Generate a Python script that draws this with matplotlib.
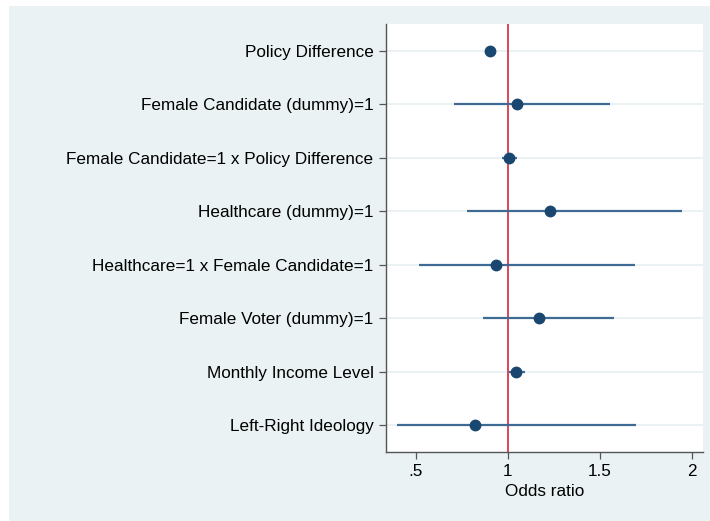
import matplotlib.pyplot as plt
from matplotlib.patches import Rectangle

labels = [
    "Policy Difference",
    "Female Candidate (dummy)=1",
    "Female Candidate=1 x Policy Difference",
    "Healthcare (dummy)=1",
    "Healthcare=1 x Female Candidate=1",
    "Female Voter (dummy)=1",
    "Monthly Income Level",
    "Left-Right Ideology",
]
odds = [0.902, 1.047, 1.005, 1.230, 0.933, 1.168, 1.043, 0.822]
ci_low = [0.885, 0.707, 0.966, 0.779, 0.515, 0.866, 1.004, 0.398]
ci_high = [0.920, 1.553, 1.047, 1.944, 1.690, 1.578, 1.092, 1.694]
xticks = [0.5, 1, 1.5, 2]
xtick_labels = [".5", "1", "1.5", "2"]

NAVY = "#1a476f"
PANEL = "#eaf2f3"

plt.rcParams["font.family"] = ["Liberation Sans", "DejaVu Sans"]

W, H = 710, 521
fig = plt.figure(figsize=(W / 100, H / 100), dpi=100, facecolor="white")

# light blue graph region, offset from the top-left like the screenshot
bg = fig.add_axes([0, 0, 1, 1], zorder=-1)
bg.add_patch(Rectangle((9 / W, 0), 1 - 9 / W, 1 - 6 / H, facecolor=PANEL, edgecolor="none"))
bg.set_xlim(0, 1)
bg.set_ylim(0, 1)
bg.axis("off")

ax = fig.add_axes([386 / W, 69 / H, 317 / W, 428 / H])
ax.set_facecolor("white")

ypos = list(range(1, len(labels) + 1))
for y in ypos:
    ax.axhline(y, color=PANEL, lw=1.4, zorder=1)

ax.axvline(1, color="#d7263d", lw=1.2, zorder=2)
ax.hlines(ypos, ci_low, ci_high, color="#3e6a94", lw=1.6, zorder=3)
ax.plot(odds, ypos, "o", color=NAVY, markersize=7.5, zorder=4)

ax.set_ylim(len(labels) + 0.5, 0.5)
ax.set_xlim(0.337, 2.06)
ax.set_yticks(ypos)
ax.set_yticklabels(labels, fontsize=12.3)
ax.set_xticks(xticks)
ax.set_xticklabels(xtick_labels, fontsize=12.3)
ax.set_xlabel("Odds ratio", fontsize=12.3, labelpad=3)

for side in ["top", "right"]:
    ax.spines[side].set_visible(False)
for side in ["left", "bottom"]:
    ax.spines[side].set_color("#555555")
    ax.spines[side].set_linewidth(1.0)
ax.tick_params(axis="both", direction="out", length=5, width=0.9, color="#555555",
               labelcolor="black", pad=4)

fig.savefig("out.png", dpi=100, facecolor="white")
